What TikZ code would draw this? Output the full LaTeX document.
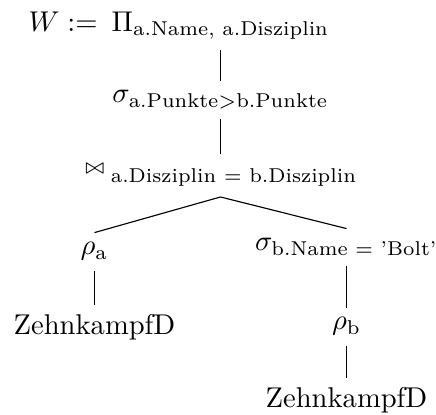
\documentclass[tikz,border=0pt]{standalone}
\usepackage{amsmath}
\begin{document}
\begin{tikzpicture}[x={(0.3497pt,0)},y={(0,-0.3497pt)},
  tn/.style={anchor=base,inner sep=3.33pt},
  edge/.style={line width=0.4pt}]
\useasboundingbox (0,0) rectangle (436,415);
\node[tn] (root) at (220.5,31.7) {$\Pi_{\text{a.Name, a.Disziplin}}$};
\node[anchor=base west,inner sep=0pt] (w) at (28,31.7) {$W :=$};
\node[tn] (s1) at (220.5,103) {$\sigma_{\text{a.Punkte>b.Punkte}}$};
\node[tn] (j) at (220.5,183) {\raisebox{3.4pt}{$\scriptstyle\bowtie$}\hspace{2.2pt}{\scriptsize a.Disziplin = b.Disziplin}};
\node[tn] (ra) at (94.5,255) {$\rho_{\text{a}}$};
\node[tn] (sb) at (346.5,251) {$\sigma_{\text{b.Name = 'Bolt'}}$};
\node[tn] (zl) at (94.5,335) {ZehnkampfD};
\node[tn] (rb) at (346.5,330) {$\rho_{\text{b}}$};
\node[tn] (zr) at (346.5,408) {ZehnkampfD};
\draw[edge] (root.south) -- (s1.north);
\draw[edge] (s1.south) -- (j.north);
\draw[edge] (j.south) -- (ra.north);
\draw[edge] (j.south) -- (sb.north);
\draw[edge] (ra.south) -- (zl.north);
\draw[edge] (sb.south) -- (rb.north);
\draw[edge] (rb.south) -- (zr.north);
\end{tikzpicture}
\end{document}
